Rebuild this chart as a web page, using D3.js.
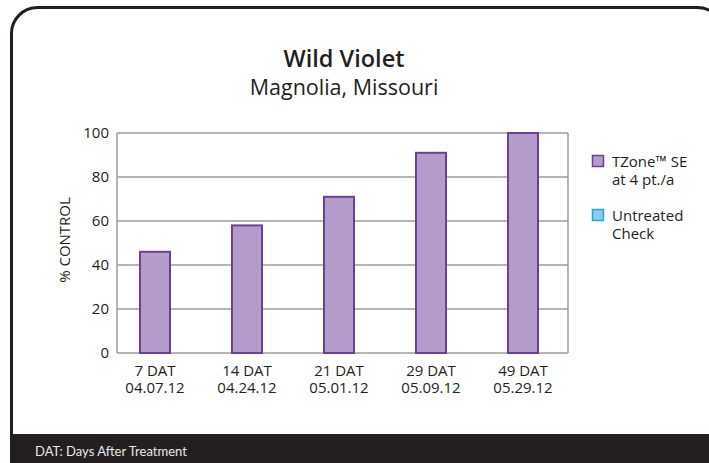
<!DOCTYPE html>
<html>
<head>
<meta charset="utf-8">
<script src="https://cdn.jsdelivr.net/npm/d3@7"></script>
<style>
  body { margin: 0; background: #fff; }
  svg { display: block; font-family: "Open Sans", Lato, sans-serif; }
</style>
</head>
<body>
<svg id="chart" width="709" height="463"></svg>
<script>
// data
const categories = ["7 DAT", "14 DAT", "21 DAT", "29 DAT", "49 DAT"];
const dates = ["04.07.12", "04.24.12", "05.01.12", "05.09.12", "05.29.12"];
const tzoneValues = [46, 58, 71, 91, 100];
const untreatedValues = [0, 0, 0, 0, 0];
const yTicks = [0, 20, 40, 60, 80, 100];
const legendItems = [
  { lines: ["TZone\u2122 SE", "at 4 pt./a"], fill: "#b39ccb", stroke: "#6d3f96" },
  { lines: ["Untreated", "Check"], fill: "#86cfee", stroke: "#2aa3d8" }
];

const svg = d3.select("#chart");

// frame
svg.append("rect")
  .attr("x", 11.5).attr("y", 7.5)
  .attr("width", 712).attr("height", 480)
  .attr("rx", 26).attr("ry", 26)
  .attr("fill", "none")
  .attr("stroke", "#231f20")
  .attr("stroke-width", 3);

svg.append("rect")
  .attr("x", 10).attr("y", 434)
  .attr("width", 709).attr("height", 40)
  .attr("fill", "#231f20");

svg.append("text")
  .attr("x", 35).attr("y", 456)
  .attr("fill", "#e8e8e8")
  .attr("font-family", "Lato, sans-serif")
  .attr("font-size", 13)
  .text("DAT: Days After Treatment");

// titles
svg.append("text")
  .attr("x", 344).attr("y", 67)
  .attr("text-anchor", "middle")
  .attr("font-size", 23.5).attr("font-weight", 600)
  .attr("fill", "#231f20")
  .text("Wild Violet");

svg.append("text")
  .attr("x", 344).attr("y", 95)
  .attr("text-anchor", "middle")
  .attr("font-size", 21.5)
  .attr("fill", "#231f20")
  .text("Magnolia, Missouri");

// plot area
const plot = { left: 117, right: 568, top: 133, bottom: 353 };

const y = d3.scaleLinear().domain([0, 100]).range([plot.bottom, plot.top]);
const x = d3.scaleBand().domain(categories).range([109, 569]);
const barW = 30;

// gridlines
svg.append("g")
  .selectAll("line")
  .data(yTicks)
  .join("line")
  .attr("x1", plot.left).attr("x2", plot.right)
  .attr("y1", d => y(d)).attr("y2", d => y(d))
  .attr("stroke", "#9d9d9d")
  .attr("stroke-width", 1.5);

svg.append("line")
  .attr("x1", plot.left).attr("x2", plot.left)
  .attr("y1", plot.top).attr("y2", plot.bottom)
  .attr("stroke", "#9d9d9d").attr("stroke-width", 1.5);
svg.append("line")
  .attr("x1", plot.right).attr("x2", plot.right)
  .attr("y1", plot.top).attr("y2", plot.bottom)
  .attr("stroke", "#9d9d9d").attr("stroke-width", 1.5);

// y tick labels
svg.append("g")
  .selectAll("text")
  .data(yTicks)
  .join("text")
  .attr("x", 109)
  .attr("y", d => y(d) + 5)
  .attr("text-anchor", "end")
  .attr("font-size", 15)
  .attr("fill", "#231f20")
  .text(d => d);

svg.append("text")
  .attr("transform", "translate(70,240) rotate(-90)")
  .attr("text-anchor", "middle")
  .attr("font-size", 15)
  .attr("fill", "#231f20")
  .text("% CONTROL");

// bars
svg.append("g")
  .selectAll("rect")
  .data(categories.map((c, i) => ({ c, v: tzoneValues[i] })))
  .join("rect")
  .attr("x", d => x(d.c) + x.bandwidth() / 2 - barW / 2)
  .attr("y", d => y(d.v))
  .attr("width", barW)
  .attr("height", d => y(0) - y(d.v))
  .attr("fill", legendItems[0].fill)
  .attr("stroke", legendItems[0].stroke)
  .attr("stroke-width", 2);

// x labels
const xl = svg.append("g")
  .selectAll("text")
  .data(categories.map((c, i) => ({ c, d: dates[i] })))
  .join("text")
  .attr("text-anchor", "middle")
  .attr("font-size", 15)
  .attr("fill", "#231f20");
xl.append("tspan")
  .attr("x", d => x(d.c) + x.bandwidth() / 2)
  .attr("y", 376)
  .text(d => d.c);
xl.append("tspan")
  .attr("x", d => x(d.c) + x.bandwidth() / 2)
  .attr("y", 393)
  .text(d => d.d);

// legend
const leg = svg.append("g")
  .selectAll("g")
  .data(legendItems)
  .join("g")
  .attr("transform", (d, i) => `translate(592,${155 + i * 54})`);
leg.append("rect")
  .attr("x", 0.5).attr("y", 0.5)
  .attr("width", 11).attr("height", 11)
  .attr("fill", d => d.fill)
  .attr("stroke", d => d.stroke)
  .attr("stroke-width", 1.5);
leg.append("text")
  .attr("font-size", 15)
  .attr("fill", "#231f20")
  .selectAll("tspan")
  .data(d => d.lines)
  .join("tspan")
  .attr("x", 20)
  .attr("y", (d, i) => 11.5 + i * 18)
  .text(d => d);
</script>
</body>
</html>
